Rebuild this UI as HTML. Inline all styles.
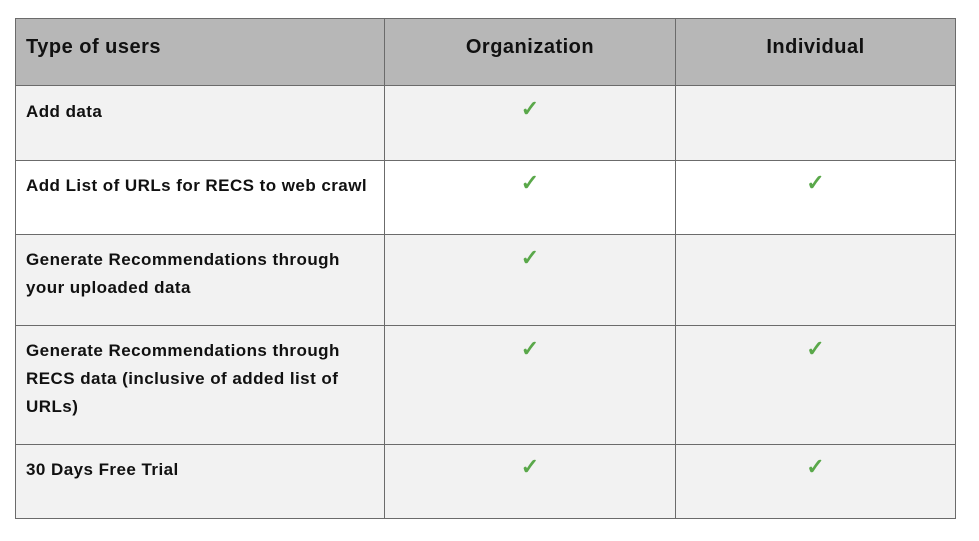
<!DOCTYPE html>
<html><head><meta charset="utf-8"><style>
body{margin:0;width:979px;height:541px;background:#fff;position:relative;font-family:"Liberation Sans",sans-serif;overflow:hidden}
.c{position:absolute;box-sizing:border-box;border-left:1px solid #6b6b6b;border-top:1px solid #6b6b6b}
.h{background:#b7b7b7;font-size:20px;color:#111;font-weight:bold;letter-spacing:0.5px}
.t{position:absolute;left:10px;font-size:17px;font-weight:bold;line-height:28px;color:#111;letter-spacing:0.45px;white-space:nowrap}
.k{position:absolute;left:0;right:0;text-align:center;color:#5aa84a;font-size:22px;font-weight:bold}
</style></head><body>
<div class="c h" style="left:15px;top:18px;width:369px;height:67px"><div style="position:absolute;left:10px;top:17px">Type of users</div></div>
<div class="c h" style="left:384px;top:18px;width:291px;height:67px"><div style="position:absolute;left:0;right:0;top:17px;text-align:center">Organization</div></div>
<div class="c h" style="left:675px;top:18px;width:281px;height:67px;border-right:1px solid #6b6b6b"><div style="position:absolute;left:0;right:0;top:17px;text-align:center">Individual</div></div>

<div class="c" style="left:15px;top:85px;width:369px;height:75px;background:#f2f2f2"><div class="t" style="top:12px">Add data</div></div>
<div class="c" style="left:384px;top:85px;width:291px;height:75px;background:#f2f2f2"><div class="k" style="top:10px">✓</div></div>
<div class="c" style="left:675px;top:85px;width:281px;height:75px;background:#f2f2f2;border-right:1px solid #6b6b6b"></div>

<div class="c" style="left:15px;top:160px;width:369px;height:74px;background:#fff"><div class="t" style="top:11px">Add List of URLs for RECS to web crawl</div></div>
<div class="c" style="left:384px;top:160px;width:291px;height:74px;background:#fff"><div class="k" style="top:9px">✓</div></div>
<div class="c" style="left:675px;top:160px;width:281px;height:74px;background:#fff;border-right:1px solid #6b6b6b"><div class="k" style="top:9px">✓</div></div>

<div class="c" style="left:15px;top:234px;width:369px;height:91px;background:#f2f2f2"><div class="t" style="top:11px">Generate Recommendations through<br>your uploaded data</div></div>
<div class="c" style="left:384px;top:234px;width:291px;height:91px;background:#f2f2f2"><div class="k" style="top:10px">✓</div></div>
<div class="c" style="left:675px;top:234px;width:281px;height:91px;background:#f2f2f2;border-right:1px solid #6b6b6b"></div>

<div class="c" style="left:15px;top:325px;width:369px;height:119px;background:#f2f2f2"><div class="t" style="top:11px">Generate Recommendations through<br>RECS data (inclusive of added list of<br>URLs)</div></div>
<div class="c" style="left:384px;top:325px;width:291px;height:119px;background:#f2f2f2"><div class="k" style="top:10px">✓</div></div>
<div class="c" style="left:675px;top:325px;width:281px;height:119px;background:#f2f2f2;border-right:1px solid #6b6b6b"><div class="k" style="top:10px">✓</div></div>

<div class="c" style="left:15px;top:444px;width:369px;height:75px;background:#f2f2f2;border-bottom:1px solid #6b6b6b"><div class="t" style="top:11px">30 Days Free Trial</div></div>
<div class="c" style="left:384px;top:444px;width:291px;height:75px;background:#f2f2f2;border-bottom:1px solid #6b6b6b"><div class="k" style="top:9px">✓</div></div>
<div class="c" style="left:675px;top:444px;width:281px;height:75px;background:#f2f2f2;border-right:1px solid #6b6b6b;border-bottom:1px solid #6b6b6b"><div class="k" style="top:9px">✓</div></div>
</body></html>
